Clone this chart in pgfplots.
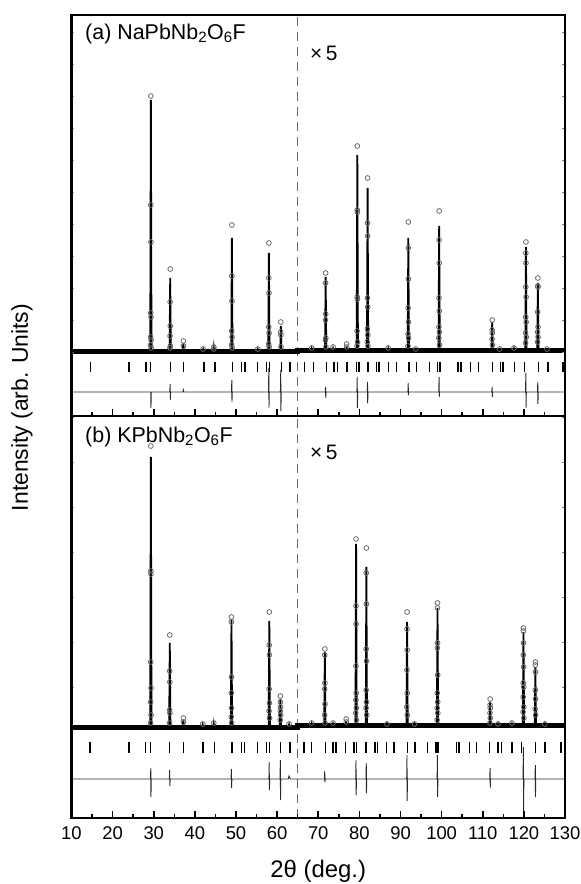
\documentclass[border=0pt]{standalone}
\usepackage{fontspec}
\setmainfont{Liberation Sans}
\usepackage{pgfplots}
\pgfplotsset{compat=1.18}
\usetikzlibrary{calc}

\definecolor{obsgray}{HTML}{6A6A6A}
\definecolor{difgray}{HTML}{2A2A2A}
\definecolor{dashgray}{HTML}{666666}

\pgfplotsset{
  xrd/.style={
    scale only axis, width=493.5bp,
    xmin=10, xmax=130,
    axis line style={line width=2.2bp},
    axis on top,
    xtick={10,20,...,130}, minor x tick num=1,
    xtick pos=left, ytick pos=both, tick align=inside,
    yticklabels={},
    xtick style={line width=1.6bp, black, /pgfplots/major tick length=7bp, /pgfplots/minor tick length=4bp},
    ytick style={line width=0.6bp, gray, /pgfplots/major tick length=3bp},
    /pgf/number format/assume math mode=true,
    ticklabel style={font=\fontsize{18.5}{18.5}\selectfont},
    xticklabel style={yshift=-5bp},
  },
  obs/.style={only marks, mark=o, mark size=2.4bp, obsgray, mark options={line width=0.8bp}},
  calc/.style={black, line width=1.8bp, no marks},
  bragg/.style={only marks, mark=|, black, mark options={line width=1.3bp}},
  diff/.style={difgray, line width=0.9bp, no marks},
}

\begin{document}
\begin{tikzpicture}
%% (a) NaPbNb2O6F
\begin{axis}[xrd, name=upper, height=401bp,
  ymin=-64, ymax=337, ytick={0,32,...,320},
  xticklabels={}]
\addplot[dashgray, line width=1.4bp, dash pattern=on 9bp off 6bp] coordinates {(65,-64) (65,337)};
\addplot[black, line width=5bp, no marks] coordinates {(10,0) (65,0) (65,1) (130,1)};
\addplot[obs] coordinates {
 (29.30,256) (29.28,147) (29.32,110) (29.26,39) (29.34,35) (29.24,15) (29.36,12) (29.22,7) (29.38,4)
 (34.00,83) (33.98,50) (34.02,26) (33.96,16) (34.04,6) (33.94,4)
 (37.20,11) (37.22,6) (42.00,3) (44.60,5) (44.62,3)
 (49.00,127) (48.98,76) (49.02,51) (48.96,21) (49.04,15) (48.94,7) (49.06,4)
 (55.30,3)
 (58.00,109) (57.98,74) (58.02,59) (57.96,25) (58.04,19) (57.94,8) (58.06,5)
 (60.90,30) (60.88,20) (60.92,17) (60.94,5)
 (68.40,4)
 (71.80,79) (71.78,69) (71.82,38) (71.76,32) (71.84,14) (71.74,12) (71.86,5)
 (73.60,5) (76.90,8) (76.92,5)
 (79.50,206) (79.48,142) (79.52,140) (79.46,55) (79.54,53) (79.44,21) (79.56,10) (79.42,6)
 (82.00,174) (81.98,129) (82.02,116) (81.96,54) (82.04,45) (81.94,23) (82.06,17) (81.92,10) (82.08,6)
 (87.00,4)
 (91.90,130) (91.88,104) (91.92,73) (91.86,44) (91.94,30) (91.84,18) (91.96,14) (91.82,6)
 (93.70,3)
 (99.40,141) (99.38,112) (99.42,89) (99.36,54) (99.44,41) (99.34,25) (99.46,20) (99.32,14) (99.48,7)
 (112.30,32) (112.28,22) (112.32,19) (112.26,13) (112.34,7)
 (114.10,3) (117.60,4)
 (120.50,110) (120.48,99) (120.52,89) (120.46,65) (120.54,55) (120.44,35) (120.56,30) (120.42,19) (120.58,15) (120.40,9)
 (123.40,74) (123.38,66) (123.42,65) (123.36,40) (123.44,25) (123.34,20) (123.46,15) (123.32,10)
 (125.60,3)
};
\addplot[calc] coordinates {
 (10,0) (29.15,0) (29.3,252) (29.45,0) (33.85,0) (34.0,74) (34.15,0) (37.05,0) (37.2,9) (37.35,0)
 (41.9,0) (42.0,2) (42.1,0) (44.5,0) (44.6,4) (44.7,0) (48.85,0) (49.0,114) (49.15,0)
 (55.2,0) (55.3,2) (55.4,0) (57.85,0) (58.0,99) (58.15,0) (60.75,0) (60.9,26) (61.05,0)
 (65,0) (65,1) (68.3,1) (68.4,3) (68.5,1) (71.65,1) (71.8,75) (71.95,1) (73.5,1) (73.6,3) (73.7,1)
 (76.8,1) (76.9,6) (77.0,1) (79.35,1) (79.5,197) (79.65,1) (81.85,1) (82.0,164) (82.15,1)
 (86.9,1) (87.0,3) (87.1,1) (91.75,1) (91.9,114) (92.05,1) (93.6,1) (93.7,2) (93.8,1)
 (99.25,1) (99.4,126) (99.55,1) (112.15,1) (112.3,30) (112.45,1) (114.0,1) (114.1,2) (114.2,1)
 (117.5,1) (117.6,3) (117.7,1) (120.35,1) (120.5,105) (120.65,1) (123.25,1) (123.4,69) (123.55,1)
 (125.5,1) (125.6,2) (125.7,1) (130,1)
};
\addplot[bragg, mark size=5bp] coordinates {
 (14.7,-15) (24.0,-15) (28.1,-15) (29.2,-15) (34.1,-15) (37.3,-15) (42.2,-15) (44.9,-15)
 (49.2,-15) (51.4,-15) (52.2,-15) (55.2,-15) (57.4,-15) (58.2,-15) (61.1,-15) (63.1,-15)
 (66.7,-15) (68.8,-15) (72.0,-15) (73.8,-15) (74.6,-15) (77.0,-15) (79.3,-15) (79.9,-15)
 (82.1,-15) (84.2,-15) (84.8,-15) (87.0,-15) (89.0,-15) (92.1,-15) (93.9,-15) (97.1,-15)
 (99.0,-15) (99.6,-15) (104.0,-15) (104.7,-15) (107.0,-15) (108.9,-15) (112.4,-15) (114.3,-15)
 (114.9,-15) (117.8,-15) (120.2,-15) (123.6,-15) (125.9,-15) (129.5,-15)
};
\addplot[diff] coordinates {
 (10,-40) (29.2,-40) (29.28,-40) (29.32,-56) (29.4,-40) (33.9,-40) (33.98,-32) (34.02,-48) (34.1,-40)
 (37.1,-40) (37.2,-38) (37.3,-40) (48.9,-40) (48.98,-28) (49.02,-50) (49.1,-40)
 (57.9,-40) (57.98,-16) (58.02,-56) (58.1,-40) (60.8,-40) (60.88,-18) (60.92,-59) (61.0,-40)
 (71.7,-40) (71.78,-35) (71.82,-46) (71.9,-40)
 (79.4,-40) (79.48,-25) (79.52,-56) (79.6,-40) (81.9,-40) (81.98,-30) (82.02,-51) (82.1,-40)
 (91.8,-40) (91.88,-31) (91.92,-43) (92.0,-40) (99.3,-40) (99.38,-25) (99.42,-45) (99.5,-40)
 (112.2,-40) (112.28,-35) (112.32,-45) (112.4,-40) (120.4,-40) (120.48,-21) (120.52,-56) (120.6,-40)
 (123.3,-40) (123.38,-30) (123.42,-52) (123.5,-40) (130,-40)
};
\node[anchor=west, font=\fontsize{21.5}{21.5}\selectfont] at (axis description cs:0.0207,0.953) {(a) NaPbNb\textsubscript{2}O\textsubscript{6}F};
\node[anchor=west, font=\fontsize{21}{21}\selectfont] at (axis description cs:0.4766,0.903) {×\,5};
\end{axis}

%% (b) KPbNb2O6F
\begin{axis}[xrd, name=lower, at={(upper.south west)}, anchor=north west, height=402bp,
  ymin=-91, ymax=311, ytick={40,85,...,310},
  xlabel={2θ (deg.)},
  xlabel style={font=\fontsize{24}{24}\selectfont, at={(axis description cs:0.5,0)}, anchor=center, yshift=-53bp}]
\addplot[dashgray, line width=1.4bp, dash pattern=on 9bp off 6bp] coordinates {(65,-91) (65,311)};
\addplot[black, line width=5bp, no marks] coordinates {(10,0) (65,0) (65,1.5) (130,1.5)};
\addplot[obs] coordinates {
 (29.30,281) (29.28,156) (29.32,153) (29.26,65) (29.34,39) (29.24,25) (29.36,12) (29.22,4)
 (33.90,92) (33.88,56) (33.92,45) (33.86,17) (33.94,14) (33.84,4)
 (37.20,9) (37.22,5) (41.90,3) (44.60,4)
 (48.90,110) (48.88,105) (48.92,50) (48.86,34) (48.94,19) (48.84,10) (48.96,4)
 (58.10,115) (58.08,82) (58.12,72) (58.06,38) (58.14,24) (58.04,16) (58.16,9)
 (60.80,31) (60.78,25) (60.82,20) (60.76,16) (60.84,12) (60.74,7)
 (62.90,3) (68.40,4)
 (71.60,78) (71.58,72) (71.62,44) (71.56,38) (71.64,23) (71.54,12) (71.66,4)
 (73.60,4) (76.80,8) (76.82,5)
 (79.20,188) (79.18,121) (79.22,103) (79.16,61) (79.24,34) (79.14,27) (79.26,19) (79.12,14) (79.28,7)
 (81.70,179) (81.68,154) (81.72,123) (81.66,78) (81.74,66) (81.64,37) (81.76,25) (81.62,19) (81.78,12)
 (86.70,3)
 (91.60,115) (91.58,98) (91.62,77) (91.56,57) (91.64,34) (91.54,20) (91.66,12)
 (93.40,3)
 (99.00,124) (98.98,119) (99.02,84) (98.96,79) (99.04,52) (98.94,34) (99.06,25) (98.92,19) (99.08,14) (98.90,7)
 (111.80,28) (111.78,22) (111.82,19) (111.76,14) (111.84,9) (111.74,4)
 (113.70,3) (117.10,4)
 (119.90,99) (119.88,96) (119.92,84) (119.86,72) (119.94,60) (119.84,44) (119.96,40) (119.82,30) (119.98,20) (119.80,15) (120.00,9)
 (122.80,65) (122.78,62) (122.82,55) (122.76,37) (122.84,28) (122.74,18) (122.86,12)
 (125.10,3)
};
\addplot[calc] coordinates {
 (10,0) (29.15,0) (29.3,270) (29.45,0) (33.75,0) (33.9,84) (34.05,0) (37.05,0) (37.2,7) (37.35,0)
 (41.8,0) (41.9,2) (42.0,0) (44.5,0) (44.6,3) (44.7,0) (48.75,0) (48.9,107) (49.05,0)
 (57.95,0) (58.1,106) (58.25,0) (60.65,0) (60.8,28) (60.95,0) (62.8,0) (62.9,2) (63.0,0)
 (65,0) (65,1.5) (68.3,1.5) (68.4,3) (68.5,1.5) (71.45,1.5) (71.6,75) (71.75,1.5) (73.5,1.5) (73.6,3) (73.7,1.5)
 (76.7,1.5) (76.8,6) (76.9,1.5) (79.05,1.5) (79.2,183) (79.35,1.5) (81.55,1.5) (81.7,160) (81.85,1.5)
 (86.6,1.5) (86.7,3) (86.8,1.5) (91.45,1.5) (91.6,105) (91.75,1.5) (93.3,1.5) (93.4,3) (93.5,1.5)
 (98.85,1.5) (99.0,119) (99.15,1.5) (111.65,1.5) (111.8,25) (111.95,1.5) (113.6,1.5) (113.7,3) (113.8,1.5)
 (117.0,1.5) (117.1,3) (117.2,1.5) (119.75,1.5) (119.9,95) (120.05,1.5) (122.65,1.5) (122.8,60) (122.95,1.5)
 (125.0,1.5) (125.1,3) (125.2,1.5) (130,1.5)
};
\addplot[bragg, mark size=5.5bp] coordinates {
 (14.5,-20.5) (24.0,-20.5) (28.0,-20.5) (29.2,-20.5) (33.9,-20.5) (37.2,-20.5) (42.0,-20.5) (44.7,-20.5)
 (49.0,-20.5) (51.4,-20.5) (52.0,-20.5) (55.2,-20.5) (57.4,-20.5) (58.1,-20.5) (60.9,-20.5) (63.1,-20.5)
 (66.5,-20.5) (68.4,-20.5) (71.8,-20.5) (73.6,-20.5) (74.3,-20.5) (76.7,-20.5) (78.7,-20.5) (79.3,-20.5)
 (81.6,-20.5) (83.8,-20.5) (84.4,-20.5) (86.6,-20.5) (88.4,-20.5) (91.7,-20.5) (93.5,-20.5) (96.6,-20.5)
 (98.6,-20.5) (99.1,-20.5) (103.6,-20.5) (104.2,-20.5) (106.7,-20.5) (108.5,-20.5) (111.7,-20.5) (113.7,-20.5)
 (114.5,-20.5) (117.1,-20.5) (119.4,-20.5) (122.8,-20.5) (125.1,-20.5) (129.0,-20.5)
};
\addplot[diff] coordinates {
 (10,-52) (29.2,-52) (29.28,-41) (29.32,-70) (29.4,-52) (33.8,-52) (33.88,-43) (33.92,-59) (34.0,-52)
 (48.8,-52) (48.88,-42) (48.92,-61) (49.0,-52) (58.0,-52) (58.08,-35) (58.12,-63) (58.2,-52)
 (60.7,-52) (60.78,-33) (60.82,-73) (60.9,-52) (62.7,-52) (62.9,-49) (63.2,-52)
 (71.5,-52) (71.58,-44) (71.62,-55) (71.7,-52) (79.1,-52) (79.18,-33) (79.22,-68) (79.3,-52)
 (81.6,-52) (81.68,-36) (81.72,-66) (81.8,-52) (91.5,-52) (91.58,-28) (91.62,-74) (91.7,-52)
 (98.9,-52) (98.98,-28) (99.02,-70) (99.1,-52) (111.7,-52) (111.78,-41) (111.82,-61) (111.9,-52)
 (119.8,-52) (119.88,-20) (119.92,-91) (120.0,-52) (122.7,-52) (122.78,-38) (122.82,-70) (122.9,-52)
 (130,-52)
};
\node[anchor=west, font=\fontsize{21.5}{21.5}\selectfont] at (axis description cs:0.0207,0.948) {(b) KPbNb\textsubscript{2}O\textsubscript{6}F};
\node[anchor=west, font=\fontsize{21}{21}\selectfont] at (axis description cs:0.4766,0.910) {×\,5};
\end{axis}

\node[rotate=90, font=\fontsize{23}{23}\selectfont] at ($(upper.south west)+(-49.5bp,8.5bp)$) {Intensity (arb. Units)};
\pgfresetboundingbox
\path[use as bounding box] ($(lower.south west)+(-71.5bp,-66bp)$) rectangle ($(upper.north east)+(16bp,15bp)$);
\end{tikzpicture}
\end{document}
